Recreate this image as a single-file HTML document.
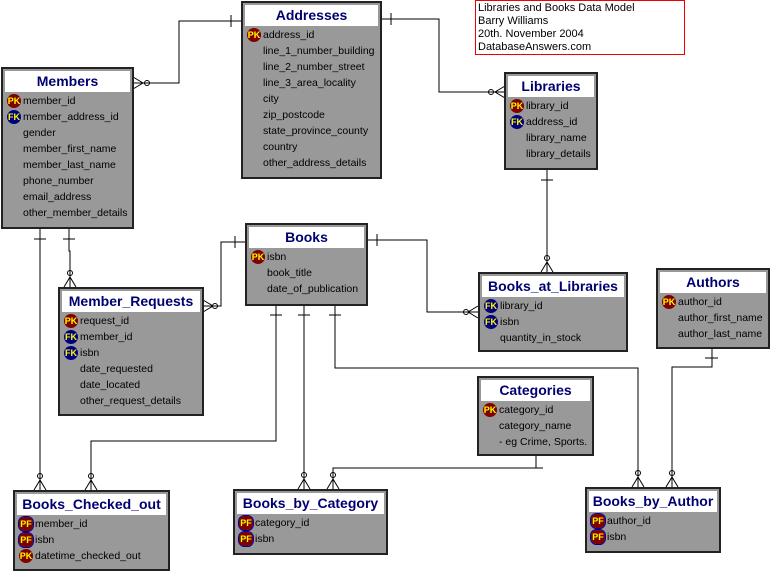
<!DOCTYPE html>
<html><head><meta charset="utf-8"><style>
body{margin:0;width:771px;height:573px;background:#fff;position:relative;overflow:hidden;font-family:"Liberation Sans",sans-serif;}
.t{position:absolute;background:#999;border:2px solid #222;box-sizing:border-box;}
.h{margin:2px 2px 1px 2px;background:#fff;height:21px;line-height:21px;text-align:center;font-weight:bold;font-size:14px;color:#000070;white-space:nowrap;}
.r{height:16px;line-height:16px;font-size:10.5px;color:#000;padding-left:20px;position:relative;white-space:nowrap;}
.i{position:absolute;left:4px;top:1px;width:14px;height:14px;border-radius:50%;font-size:9px;line-height:14px;text-align:center;color:#ff0;font-weight:bold;}
.pk{background:#800000}.fk{background:#000080}
.pf{background:#800000;border-radius:40%;outline:1px solid #0000a0}
.note{position:absolute;left:475px;top:0;width:210px;height:55px;border:1px solid #e00;box-sizing:border-box;font-size:11px;line-height:13px;padding:1px 0 0 2px;}
svg{position:absolute;left:0;top:0}
</style></head><body>
<svg width="771" height="573" fill="none" stroke="#000" stroke-width="1">
<polyline points="241,21 179,21 179,83 133,83"/><line x1="231" y1="15" x2="231" y2="27"/>
<path d="M133,77 L143,83 L133,89 M143,83 L145,83"/><circle cx="147" cy="83" r="2.5"/>
<polyline points="381,19 439,19 439,92 505,92"/><line x1="391" y1="13" x2="391" y2="25"/>
<path d="M505,86 L495,92 L505,98"/><circle cx="491" cy="92" r="2.5"/>
<line x1="547" y1="169" x2="547" y2="272"/><line x1="541" y1="180" x2="553" y2="180"/>
<path d="M541,272 L547,262 L553,272"/><circle cx="547" cy="258" r="2.5"/>
<polyline points="367,240 427,240 427,312 478,312"/><line x1="377" y1="234" x2="377" y2="246"/>
<path d="M478,306 L468,312 L478,318"/><circle cx="466" cy="312" r="2.5"/>
<polyline points="245,242 221,242 221,306 203,306"/><line x1="235" y1="236" x2="235" y2="248"/>
<path d="M203,300 L213,306 L203,312"/><circle cx="215" cy="306" r="2.5"/>
<line x1="40" y1="228" x2="40" y2="490"/><line x1="34" y1="239" x2="46" y2="239"/>
<path d="M34,490 L40,480 L46,490"/><circle cx="40" cy="476" r="2.5"/>
<polyline points="69,228 69,251 70,251 70,287"/><line x1="63" y1="239" x2="75" y2="239"/>
<path d="M64,287 L70,277 L76,287"/><circle cx="70" cy="273" r="2.5"/>
<polyline points="276,305 276,441 91,441 91,490"/><line x1="270" y1="315" x2="282" y2="315"/>
<path d="M85,490 L91,480 L97,490"/><circle cx="91" cy="476" r="2.5"/>
<line x1="304" y1="305" x2="304" y2="489"/><line x1="298" y1="315" x2="310" y2="315"/>
<path d="M298,489 L304,479 L310,489"/><circle cx="304" cy="475" r="2.5"/>
<polyline points="536,455 536,468 333,468 333,489"/><line x1="530" y1="468" x2="543" y2="468"/>
<path d="M327,489 L333,479 L339,489"/><circle cx="333" cy="475" r="2.5"/>
<polyline points="335,305 335,368 638,368 638,487"/><line x1="329" y1="315" x2="341" y2="315"/>
<path d="M632,487 L638,477 L644,487"/><circle cx="638" cy="473" r="2.5"/>
<polyline points="712,348 712,367 672,367 672,487"/><line x1="705" y1="358" x2="718" y2="358"/>
<path d="M666,487 L672,477 L678,487"/><circle cx="672" cy="473" r="2.5"/>
</svg>

<div class="note">Libraries and Books Data Model<br>Barry Williams<br>20th. November 2004<br>DatabaseAnswers.com</div>

<div class="t" style="left:1px;top:67px;width:133px;height:162px"><div class="h">Members</div>
<div class="r"><span class="i pk">PK</span>member_id</div><div class="r"><span class="i fk">FK</span>member_address_id</div>
<div class="r">gender</div><div class="r">member_first_name</div><div class="r">member_last_name</div><div class="r">phone_number</div><div class="r">email_address</div><div class="r">other_member_details</div></div>

<div class="t" style="left:241px;top:1px;width:141px;height:178px"><div class="h">Addresses</div>
<div class="r"><span class="i pk">PK</span>address_id</div><div class="r">line_1_number_building</div><div class="r">line_2_number_street</div><div class="r">line_3_area_locality</div><div class="r">city</div><div class="r">zip_postcode</div><div class="r">state_province_county</div><div class="r">country</div><div class="r">other_address_details</div></div>

<div class="t" style="left:504px;top:72px;width:94px;height:98px"><div class="h">Libraries</div>
<div class="r"><span class="i pk">PK</span>library_id</div><div class="r"><span class="i fk">FK</span>address_id</div><div class="r">library_name</div><div class="r">library_details</div></div>

<div class="t" style="left:245px;top:223px;width:123px;height:83px"><div class="h">Books</div>
<div class="r"><span class="i pk">PK</span>isbn</div><div class="r">book_title</div><div class="r">date_of_publication</div></div>

<div class="t" style="left:478px;top:272px;width:150px;height:80px"><div class="h">Books_at_Libraries</div>
<div class="r"><span class="i fk">FK</span>library_id</div><div class="r"><span class="i fk">FK</span>isbn</div><div class="r">quantity_in_stock</div></div>

<div class="t" style="left:656px;top:268px;width:114px;height:81px"><div class="h">Authors</div>
<div class="r"><span class="i pk">PK</span>author_id</div><div class="r">author_first_name</div><div class="r">author_last_name</div></div>

<div class="t" style="left:58px;top:287px;width:146px;height:129px"><div class="h">Member_Requests</div>
<div class="r"><span class="i pk">PK</span>request_id</div><div class="r"><span class="i fk">FK</span>member_id</div><div class="r"><span class="i fk">FK</span>isbn</div><div class="r">date_requested</div><div class="r">date_located</div><div class="r">other_request_details</div></div>

<div class="t" style="left:477px;top:376px;width:117px;height:80px"><div class="h">Categories</div>
<div class="r"><span class="i pk">PK</span>category_id</div><div class="r">category_name</div><div class="r">- eg Crime, Sports.</div></div>

<div class="t" style="left:13px;top:490px;width:157px;height:81px"><div class="h">Books_Checked_out</div>
<div class="r"><span class="i pf">PF</span>member_id</div><div class="r"><span class="i pf">PF</span>isbn</div><div class="r"><span class="i pk">PK</span>datetime_checked_out</div></div>

<div class="t" style="left:233px;top:489px;width:155px;height:66px"><div class="h">Books_by_Category</div>
<div class="r"><span class="i pf">PF</span>category_id</div><div class="r"><span class="i pf">PF</span>isbn</div></div>

<div class="t" style="left:585px;top:487px;width:136px;height:66px"><div class="h">Books_by_Author</div>
<div class="r"><span class="i pf">PF</span>author_id</div><div class="r"><span class="i pf">PF</span>isbn</div></div>
</body></html>
